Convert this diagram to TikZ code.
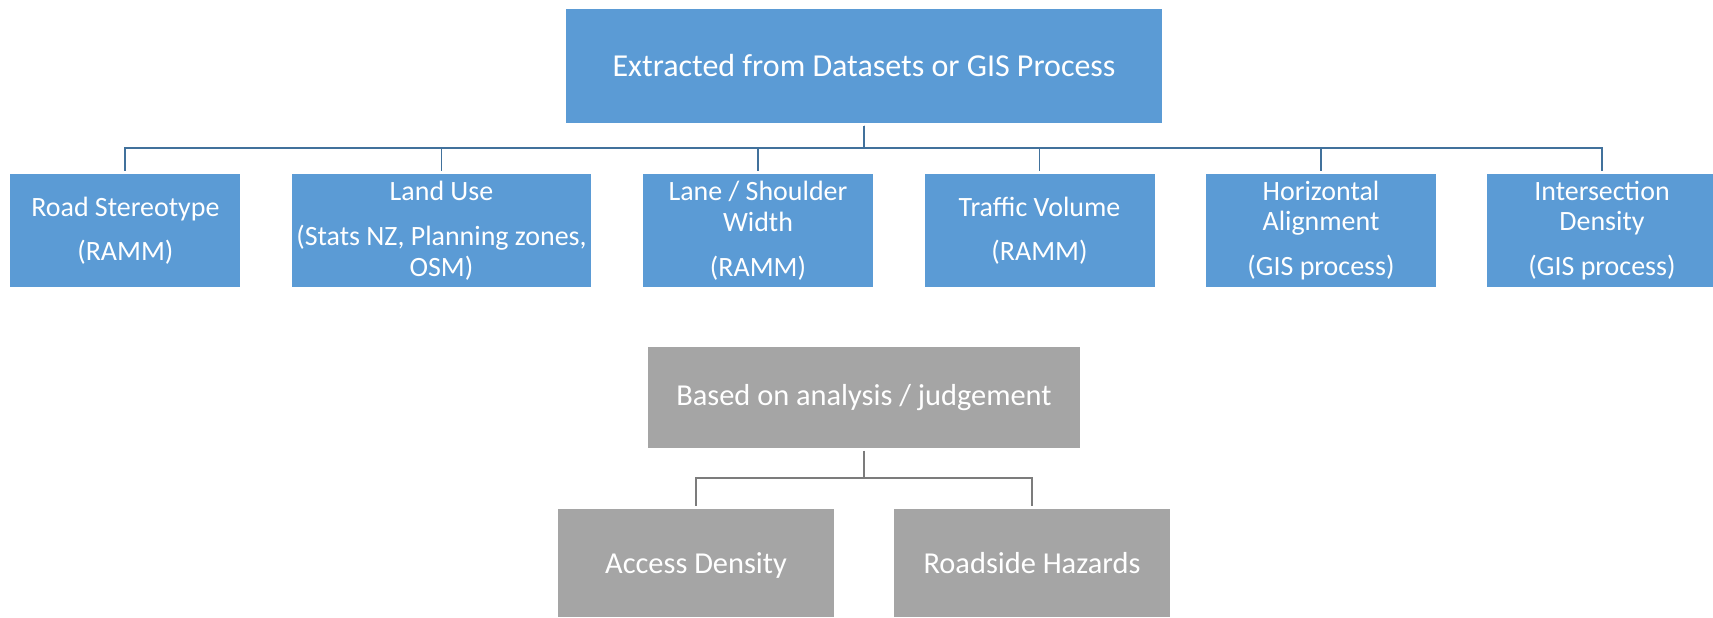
\documentclass[tikz,border=0pt]{standalone}
\usepackage{fontspec}
\setmainfont{Carlito}
\definecolor{boxblue}{HTML}{5B9BD5}
\definecolor{lineblue}{HTML}{41719C}
\definecolor{boxgray}{HTML}{A5A5A5}
\definecolor{linegray}{HTML}{7C7C7C}

\begin{document}
\begin{tikzpicture}[
  srcbox/.style={fill=boxblue,text=white,align=center,inner sep=0pt,
    minimum width=#1,minimum height=2.27cm,
    font=\fontsize{15.9}{17.1}\selectfont},
  judgebox/.style={fill=boxgray,text=white,align=center,inner sep=0pt,
    minimum width=#1,minimum height=2.16cm,
    font=\fontsize{17.3}{20}\selectfont},
  link/.style={line width=1.1pt,shorten <=0.045cm,shorten >=0.045cm}
]
  \useasboundingbox (0,0) rectangle (34.26,12.36);
  % data sourced variables
  \node[srcbox=11.92cm,minimum height=2.28cm,font=\fontsize{18.2}{21}\selectfont]
    (extract) at (17.28,11.04) {Extracted from Datasets or GIS Process};
  \node[srcbox=4.6cm] (stereo) at (2.507,7.745)
    {Road Stereotype\\[8.5pt](RAMM)};
  \node[srcbox=5.99cm] (landuse) at (8.83,7.745)
    {Land Use\\[8.5pt](Stats NZ, Planning zones,\\OSM)};
  \node[srcbox=4.6cm] (lane) at (15.16,7.745)
    {Lane / Shoulder\\Width\\[8.5pt](RAMM)};
  \node[srcbox=4.6cm] (traffic) at (20.79,7.745)
    {Traffic Volume\\[8.5pt](RAMM)};
  \node[srcbox=4.6cm] (horiz) at (26.42,7.745)
    {Horizontal\\Alignment\\[8.5pt](GIS process)};
  \node[srcbox=4.6cm] (inter) at (32.04,7.745)
    {Intersection\\Density\\[8.5pt](GIS process)};
  \coordinate (srcbus) at (17.28,9.40);
  \foreach \n in {stereo,landuse,lane,traffic,horiz,inter}
    \draw[link,lineblue] (extract.south) -- (srcbus) -| (\n.north);
  % judgement based variables
  \node[judgebox=8.64cm,minimum height=2.03cm] (judge) at (17.28,4.41)
    {Based on analysis / judgement};
  \node[judgebox=5.52cm,text depth=0pt] (access) at (13.92,1.10) {Access Density};
  \node[judgebox=5.52cm,text depth=0pt] (hazard) at (20.64,1.10) {Roadside Hazards};
  \coordinate (judgebus) at (17.28,2.80);
  \foreach \n in {access,hazard}
    \draw[link,linegray] (judge.south) -- (judgebus) -| (\n.north);
\end{tikzpicture}
\end{document}
